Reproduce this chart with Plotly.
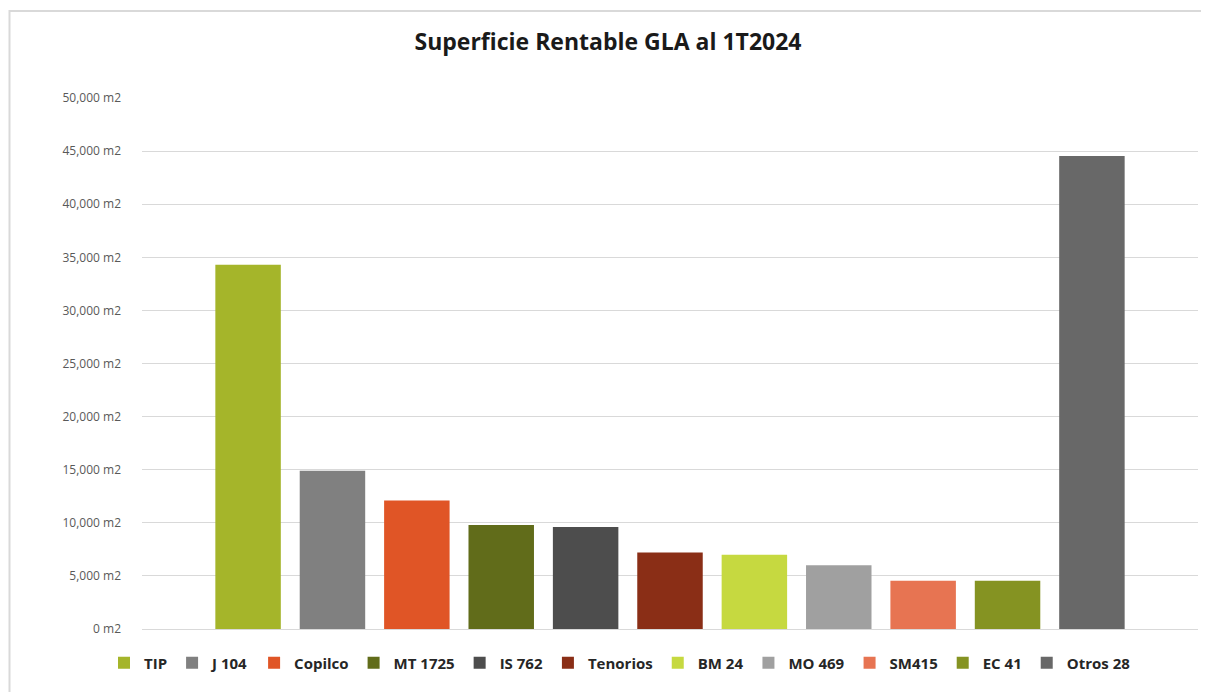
import plotly.graph_objects as go

names = ["TIP", "J 104", "Copilco", "MT 1725", "IS 762", "Tenorios",
         "BM 24", "MO 469", "SM415", "EC 41", "Otros 28"]
values = [34300, 14900, 12100, 9800, 9600, 7200, 7000, 6000, 4550, 4550, 44550]
colors = ["#A5B52A", "#808080", "#E05526", "#616C1A", "#4D4D4D", "#8A2E16",
          "#C6D940", "#A0A0A0", "#E77452", "#859322", "#686868"]
category = ["GLA"]
y_ticks = [0, 5000, 10000, 15000, 20000, 25000, 30000, 35000, 40000, 45000, 50000]
y_tick_labels = [f"{v:,} m2" for v in y_ticks]

fig = go.Figure()
for n, v, c in zip(names, values, colors):
    fig.add_trace(go.Bar(name=n, x=category, y=[v], marker=dict(color=c, line=dict(width=0))))

# page shows the figure offset by 8px (body margin)
OFF = 8
W, H = 1209 - OFF, 692 - OFF
ml, mr, mt, mb = 142 - OFF, 11, 98 - OFF, 692 - 629
pw, ph = W - ml - mr, H - mt - mb

def px_to_paper_x(px):
    return (px - OFF - ml) / pw

def px_to_paper_y(py):
    return 1 - (py - OFF - mt) / ph

fig.update_layout(
    width=W, height=H,
    margin=dict(l=ml, r=mr, t=mt, b=mb, autoexpand=False),
    paper_bgcolor="white", plot_bgcolor="white",
    barmode="group", bargap=0.121, bargroupgap=0.224,
    title=dict(text="<b>Superficie Rentable GLA al 1T2024</b>", x=px_to_paper_x(608), xref="paper",
               xanchor="center",
               y=1 - (42 - OFF) / H, yanchor="middle",
               font=dict(family="Open Sans", size=23, color="#1a1a1a")),
    showlegend=True,
    legend=dict(orientation="h", x=px_to_paper_x(620), xanchor="center", xref="paper",
                y=px_to_paper_y(663), yanchor="middle",
                font=dict(family="Open Sans", size=15, color="#262626", weight="bold"),
                itemwidth=30, traceorder="normal"),
    font=dict(family="Open Sans"),
)
fig.update_xaxes(range=[-0.5, 0.5], showticklabels=False, showgrid=False,
                 zeroline=False, showline=False, ticks="")
fig.update_yaxes(range=[0, 50000], tickmode="array", tickvals=y_ticks, ticktext=y_tick_labels,
                 showgrid=True, gridcolor="#D9D9D9", gridwidth=1,
                 zeroline=True, zerolinecolor="#D9D9D9", zerolinewidth=1,
                 showline=False, ticks="", ticklabelstandoff=20, automargin=False,
                 tickfont=dict(family="Open Sans", size=12, color="#595959"))

fig.add_shape(type="rect", xref="paper", yref="paper",
              x0=px_to_paper_x(9.5), x1=px_to_paper_x(1230),
              y0=px_to_paper_y(720), y1=px_to_paper_y(11),
              line=dict(color="#D9D9D9", width=2), fillcolor="rgba(0,0,0,0)", layer="below")

fig.write_html("out.html")
